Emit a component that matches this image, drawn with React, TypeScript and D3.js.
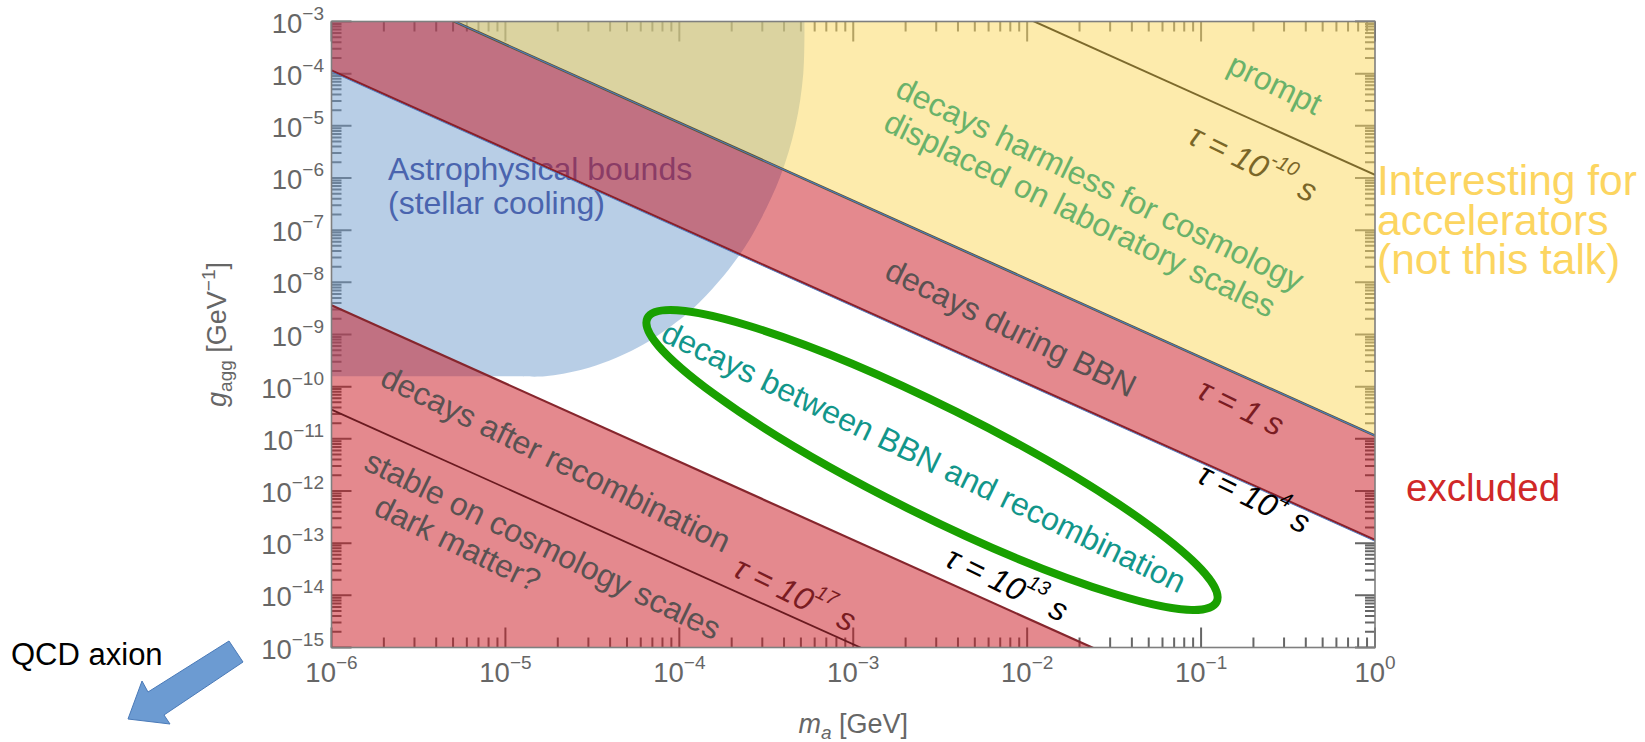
import React from "react";
import * as d3 from "d3";

// ---------- frame / axes ----------
const WIDTH = 1645;
const HEIGHT = 742;
const PLOT = { x0: 331.5, x1: 1375, y0: 21.5, y1: 647.5 };

const massDomain: [number, number] = [1e-6, 1];
const couplingDomain: [number, number] = [1e-15, 1e-3];
const massDecades = [-6, -5, -4, -3, -2, -1, 0];
const couplingDecades = [-3, -4, -5, -6, -7, -8, -9, -10, -11, -12, -13, -14, -15];
const minorMultipliers = [2, 3, 4, 5, 6, 7, 8, 9];

// ---------- lifetime lines (coupling at m = 1e-6 GeV and m = 1 GeV) ----------
const lineMasses = [1e-6, 1];
const tauPrompt = [1.15e3, 1.15e-6]; // tau = 1e-10 s
const tauOneSecond = [1.15e-2, 1.15e-11]; // tau = 1 s
const tauBBNEnd = [1.15e-4, 1.15e-13]; // tau = 1e4 s
const tauRecomb = [3.64e-9, 3.64e-18]; // tau = 1e13 s
const tauAge = [3.64e-11, 3.64e-20]; // tau = 1e17 s

// ---------- astrophysical (stellar cooling) bound ----------
const astroMass = [5.24e-4, 5.16e-4, 4.65e-4, 3.78e-4, 2.72e-4, 2.19e-4, 1.67e-4, 1.2e-4, 7.66e-5, 5.77e-5, 3.98e-5, 2.74e-5, 1.69e-5, 1.21e-5];
const astroCoupling = [1e-3, 1e-4, 1e-5, 1e-6, 1e-7, 3.16e-8, 1e-8, 3.16e-9, 1e-9, 5.62e-10, 3.16e-10, 2.11e-10, 1.58e-10, 1.58e-10];

const SKY = 1e3;
const FLOOR = 1e-22;
const FONT = "'Liberation Sans', Arial, Helvetica, sans-serif";
const LABEL_SIZE = 32;
const ANGLE = 26;

const zip = (ms: number[], gs: number[]): [number, number][] => ms.map((m, i) => [m, gs[i]]);

function Rot({ x, y, a = ANGLE, size = LABEL_SIZE, color, children, anchor = "middle", italic = false }: any) {
  return (
    <text
      transform={`translate(${x},${y}) rotate(${a})`}
      textAnchor={anchor}
      dominantBaseline="central"
      fontSize={size}
      fill={color}
      fontStyle={italic ? "italic" : "normal"}
    >
      {children}
    </text>
  );
}

function Tau({ x, y, color, base, exp }: any) {
  return (
    <Rot x={x} y={y} color={color} italic size={32}>
      {"τ = " + base}
      {exp ? (
        <>
          <tspan dy={-13} fontSize={20}>{exp}</tspan>
          <tspan dy={13}>{"\u00a0s"}</tspan>
        </>
      ) : (
        <tspan>{"\u00a0s"}</tspan>
      )}
    </Rot>
  );
}

export default function App() {
  const x = d3.scaleLog().domain(massDomain).range([PLOT.x0, PLOT.x1]);
  const y = d3.scaleLog().domain(couplingDomain).range([PLOT.y1, PLOT.y0]);
  const line = d3.line<[number, number]>().x((d) => x(d[0])).y((d) => y(d[1]));
  const poly = (pts: [number, number][]) => line(pts) + "Z";

  const m0 = lineMasses[0];
  const m1 = lineMasses[1];

  const yellowPath = poly([[m0, SKY], [m0, tauOneSecond[0]], [m1, tauOneSecond[1]], [m1, SKY]]);
  const redBandPath = poly([[m0, tauOneSecond[0]], [m1, tauOneSecond[1]], [m1, tauBBNEnd[1]], [m0, tauBBNEnd[0]]]);
  const redLowPath = poly([[m0, tauRecomb[0]], [m1, tauRecomb[1]], [m1, FLOOR], [m0, FLOOR]]);

  const astroCurve = d3
    .line<[number, number]>()
    .x((d) => x(d[0]))
    .y((d) => y(d[1]))
    .curve(d3.curveCatmullRom)(zip(astroMass, astroCoupling)) as string;
  const gFloor = astroCoupling[astroCoupling.length - 1];
  const astroPath =
    `M${x(1e-6)},${y(1e-3)}` + "L" + astroCurve.slice(1) + `L${x(1e-6)},${y(gFloor)}Z`;

  const tauLine = (gs: number[]) => line(zip(lineMasses, gs)) as string;

  // ticks
  const xMajor = massDecades.map((e) => Math.pow(10, e));
  const xMinor: number[] = [];
  massDecades.slice(0, -1).forEach((e) => minorMultipliers.forEach((k) => xMinor.push(k * Math.pow(10, e))));
  const yMajor = couplingDecades.map((e) => Math.pow(10, e));
  const yMinor: number[] = [];
  couplingDecades.slice(1).forEach((e) => minorMultipliers.forEach((k) => yMinor.push(k * Math.pow(10, e))));

  const MAJ = 20;
  const MIN = 10;
  let tickD = "";
  xMajor.forEach((v) => {
    const px = x(v);
    tickD += `M${px},${PLOT.y1}V${PLOT.y1 - MAJ}M${px},${PLOT.y0}V${PLOT.y0 + MAJ}`;
  });
  xMinor.forEach((v) => {
    const px = x(v);
    tickD += `M${px},${PLOT.y1}V${PLOT.y1 - MIN}M${px},${PLOT.y0}V${PLOT.y0 + MIN}`;
  });
  yMajor.forEach((v) => {
    const py = y(v);
    tickD += `M${PLOT.x0},${py}H${PLOT.x0 + MAJ}M${PLOT.x1},${py}H${PLOT.x1 - MAJ}`;
  });
  yMinor.forEach((v) => {
    const py = y(v);
    tickD += `M${PLOT.x0},${py}H${PLOT.x0 + MIN}M${PLOT.x1},${py}H${PLOT.x1 - MIN}`;
  });

  const expLabel = (e: number) => (e === 0 ? "0" : "−" + Math.abs(e));

  return (
    <svg
      width={WIDTH}
      height={HEIGHT}
      style={{ position: "absolute", left: 0, top: 0, background: "#fff" }}
      fontFamily={FONT}
    >
      <defs>
        <clipPath id="plotClip">
          <rect x={PLOT.x0} y={PLOT.y0} width={PLOT.x1 - PLOT.x0} height={PLOT.y1 - PLOT.y0} />
        </clipPath>
      </defs>

      {/* ticks (under translucent regions) */}
      <path d={tickD} stroke="#666" strokeWidth={2} fill="none" />

      <g clipPath="url(#plotClip)">
        <path d={astroPath} fill="#719dcd" fillOpacity={0.5} />
        <text x={388} y={180} fontSize={LABEL_SIZE} fill="#4a64ae">Astrophysical bounds</text>
        <text x={388} y={214} fontSize={LABEL_SIZE} fill="#4a64ae">(stellar cooling)</text>
        <path d={yellowPath} fill="#fcd95f" fillOpacity={0.52} />
        <path d={redBandPath} fill="#c9141e" fillOpacity={0.5} />
        <path d={redLowPath} fill="#c9141e" fillOpacity={0.5} />

        {/* boundary lines */}
        <path d={tauLine(tauPrompt)} stroke="#7d6a2c" strokeWidth={2} fill="none" />
        <path d={tauLine(tauOneSecond)} stroke="#5e5530" strokeWidth={2.6} fill="none" />
        <path d={tauLine(tauOneSecond)} stroke="#4d7ac2" strokeWidth={1.1} fill="none" />
        <path d={tauLine(tauBBNEnd)} stroke="#8a1f28" strokeWidth={2.2} fill="none" />
        <path d={tauLine(tauBBNEnd)} stroke="#4d7ac2" strokeWidth={0.9} fill="none" transform="translate(0,1.3)" />
        <path d={tauLine(tauRecomb)} stroke="#86262d" strokeWidth={2.2} fill="none" />
        <path d={tauLine(tauAge)} stroke="#6a1a20" strokeWidth={1.8} fill="none" />
      </g>

      {/* frame */}
      <rect
        x={PLOT.x0}
        y={PLOT.y0}
        width={PLOT.x1 - PLOT.x0}
        height={PLOT.y1 - PLOT.y0}
        fill="none"
        stroke="#7f7f7f"
        strokeWidth={1.6}
      />

      {/* tick labels */}
      {massDecades.map((e) => (
        <text key={"xl" + e} x={x(Math.pow(10, e))} y={682} textAnchor="middle" fontSize={27.5} fill="#666">
          10<tspan dy={-13} fontSize={19}>{expLabel(e)}</tspan>
        </text>
      ))}
      {couplingDecades.map((e) => (
        <text key={"yl" + e} x={324} y={y(Math.pow(10, e)) + 11} textAnchor="end" fontSize={27.5} fill="#666">
          10<tspan dy={-13} fontSize={19}>{expLabel(e)}</tspan>
        </text>
      ))}

      {/* axis titles */}
      <text x={(PLOT.x0 + PLOT.x1) / 2} y={733} textAnchor="middle" fontSize={27} fill="#666">
        <tspan fontStyle="italic">m</tspan>
        <tspan fontStyle="italic" fontSize={19} dy={6}>a</tspan>
        <tspan dy={-6}>{"\u00a0[GeV]"}</tspan>
      </text>
      <text
        transform={`translate(226,${(PLOT.y0 + PLOT.y1) / 2}) rotate(-90)`}
        textAnchor="middle"
        fontSize={27}
        fill="#666"
      >
        <tspan fontStyle="italic">g</tspan>
        <tspan fontSize={19} dy={6}>agg</tspan>
        <tspan dy={-6}>{"\u00a0[GeV"}</tspan>
        <tspan fontSize={19} dy={-11}>−1</tspan>
        <tspan dy={11}>]</tspan>
      </text>

      {/* region labels */}
      <Rot x={1100} y={184} color="#6ab26a">decays harmless for cosmology</Rot>
      <Rot x={1080} y={214} color="#6ab26a">displaced on laboratory scales</Rot>
      <Rot x={1275} y={84} color="#6ab26a">prompt</Rot>
      <Tau x={1253} y={163} color="#7a6628" base="10" exp="-10" />

      <Rot x={1011} y={328} color="#5a5252">decays during BBN</Rot>
      <Tau x={1241} y={407} color="#7a1c22" base="1" />
      <Tau x={1254} y={498} color="#000" base="10" exp="4" />

      <ellipse
        cx={0}
        cy={0}
        rx={318}
        ry={54}
        transform="translate(932,460) rotate(26.5)"
        fill="none"
        stroke="#19a000"
        strokeWidth={8}
      />
      <Rot x={924} y={457} color="#12968a">decays between BBN and recombination</Rot>
      <Tau x={1007} y={584} color="#000" base="10" exp="13" />

      <Rot x={556} y={459} color="#5a5252">decays after recombination</Rot>
      <Tau x={795} y={594} color="#7a1c22" base="10" exp="17" />
      <Rot x={367} y={459} anchor="start" color="#5a5252">stable on cosmology scales</Rot>
      <Rot x={377} y={504} anchor="start" color="#5a5252">dark matter?</Rot>

      {/* side annotations */}
      <text x={1377} y={195} fontSize={42.5} fill="#fcd560">Interesting for</text>
      <text x={1377} y={235} fontSize={42.5} fill="#fcd560">accelerators</text>
      <text x={1377} y={274} fontSize={42.5} fill="#fcd560">(not this talk)</text>
      <text x={1406} y={501} fontSize={38.5} fill="#d02828">excluded</text>

      <text x={11} y={665} fontSize={31} fill="#000">QCD axion</text>
      <path
        d="M229,641L148,692L142,681L128,719L170,724L164,715L243,662Z"
        fill="#6c9bd2"
        stroke="#4a7ab8"
        strokeWidth={1}
      />
    </svg>
  );
}
